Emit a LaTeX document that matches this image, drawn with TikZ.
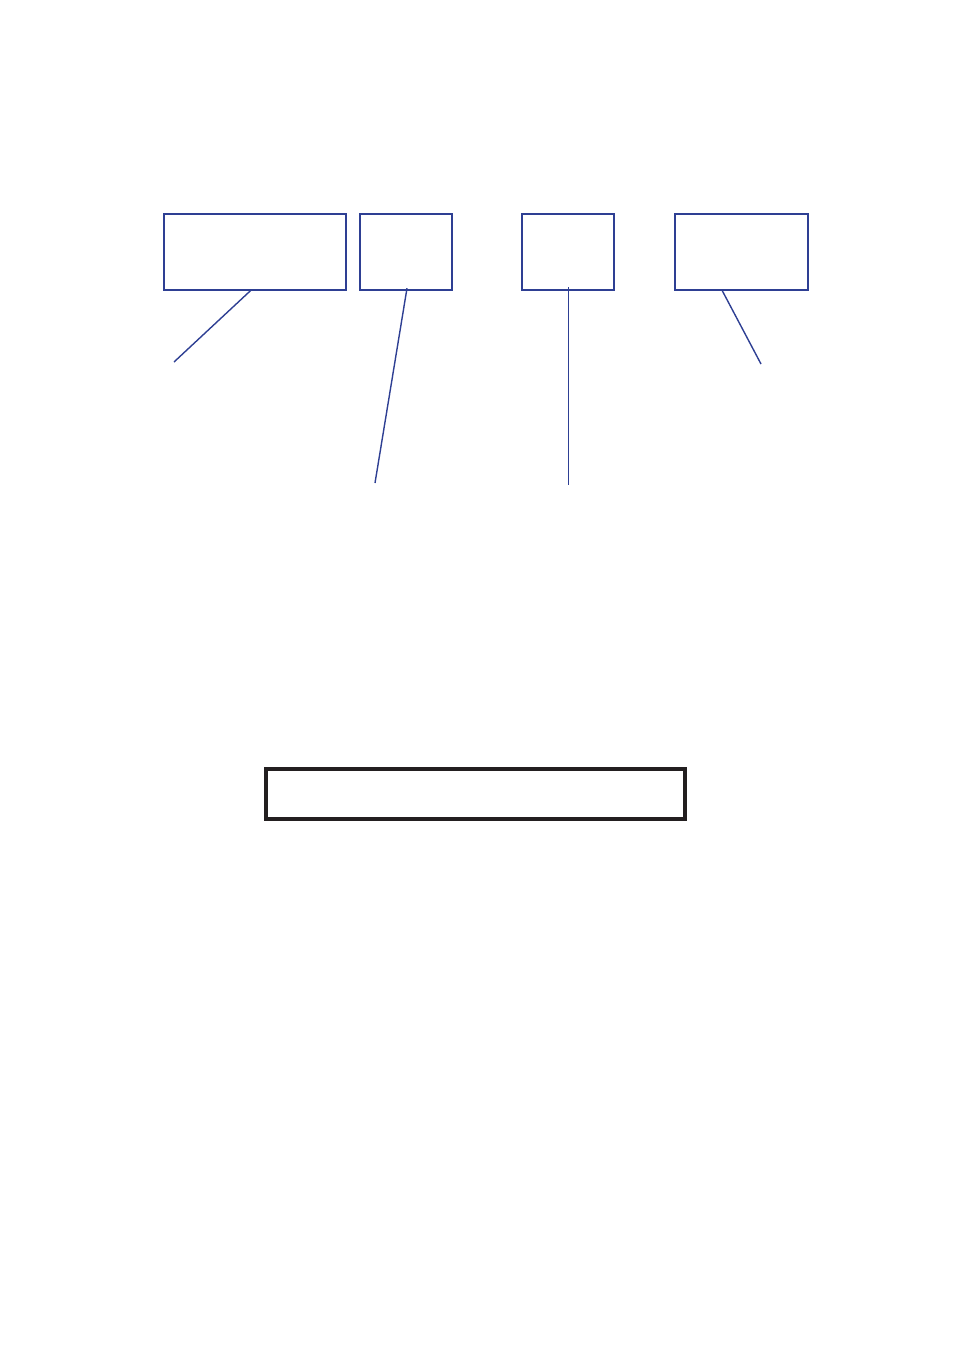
\documentclass[tikz,border=0pt]{standalone}
\usetikzlibrary{calc}
\definecolor{lineblue}{HTML}{2E3F93}
\definecolor{boxblack}{HTML}{231F20}
\begin{document}
\begin{tikzpicture}[x=1pt,y=-1pt,
  bluebox/.style={draw=lineblue,line width=1.6pt,inner sep=0pt,outer sep=0pt,anchor=north west,fill=white},
  leader/.style={draw=lineblue,line width=1.4pt},
  blackbox/.style={draw=boxblack,line width=3.6pt,inner sep=0pt,outer sep=0pt,anchor=north west}]
\useasboundingbox (0,0) rectangle (953,1352);
\node[bluebox,minimum width=182.4pt,minimum height=76.4pt] (b1) at (163.8,213.8) {};
\node[bluebox,minimum width=92.4pt,minimum height=76.4pt] (b2) at (359.8,213.8) {};
\node[bluebox,minimum width=92.4pt,minimum height=76.4pt] (b3) at (521.8,213.8) {};
\node[bluebox,minimum width=133.4pt,minimum height=76.4pt] (b4) at (674.8,213.8) {};
\node[blackbox,minimum width=419.4pt,minimum height=50.4pt] (bb) at (265.8,768.8) {};
\coordinate (e1) at (174,362);
\coordinate (e2) at (375,483);
\coordinate (e3) at (568.5,485);
\coordinate (e4) at (761,364);
\draw[leader] ($(b1.south)+(-4,0)$) -- (e1);
\draw[leader] ($(b2.south)+(1,-2)$) -- (e2);
\draw[leader] ($(b3.south)+(0.5,-3)$) -- (e3);
\draw[leader] ($(b4.south)+(-19.5,0)$) -- (e4);
\end{tikzpicture}
\end{document}
